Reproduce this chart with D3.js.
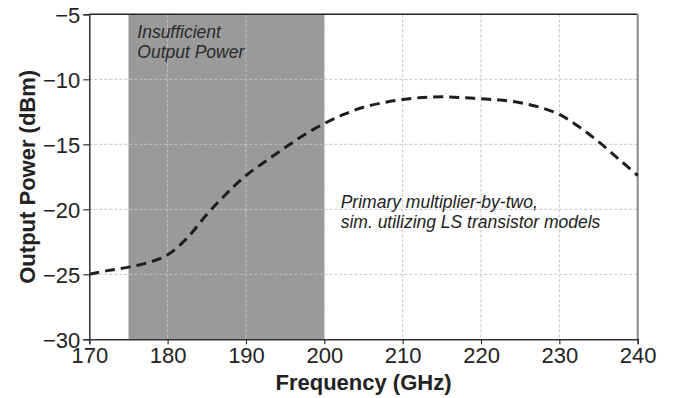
<!DOCTYPE html>
<html>
<head>
<meta charset="utf-8">
<script src="https://cdn.jsdelivr.net/npm/d3@7"></script>
<style>
  html, body { margin: 0; padding: 0; background: #fff; }
  svg { display: block; font-family: "Liberation Sans", Arial, Helvetica, sans-serif; }
</style>
</head>
<body>
<svg id="chart" width="673" height="398"></svg>
<script>
// ---- Data ----
const frequency = [170, 172.5, 175, 177.5, 180, 182.5, 185, 187.5, 190, 192.5, 195, 197.5, 200,
  202.5, 205, 207.5, 210, 212.5, 215, 217.5, 220, 222.5, 225, 227.5, 230, 232.5, 235, 237.5, 240];
const outputPower = [-25.0, -24.7, -24.45, -24.1, -23.5, -22.2, -20.4, -18.8, -17.4, -16.3, -15.25, -14.25, -13.4,
  -12.7, -12.15, -11.8, -11.55, -11.4, -11.35, -11.4, -11.5, -11.6, -11.8, -12.15, -12.7, -13.65, -14.8, -16.1, -17.4];
const shadedBand = [175, 200];
const xTicks = [170, 180, 190, 200, 210, 220, 230, 240];
const yTicks = [-30, -25, -20, -15, -10, -5];
const bandLabel = ["Insufficient", "Output Power"];
const noteLabel = ["Primary multiplier-by-two,", "sim. utilizing LS transistor models"];
const xTitle = "Frequency (GHz)";
const yTitle = "Output Power (dBm)";

// ---- Layout ----
const W = 673, H = 398;
const m = { left: 89.3, right: 35.3, top: 14.3, bottom: 58.7 };
const svg = d3.select("#chart");
const x = d3.scaleLinear().domain([170, 240]).range([m.left, W - m.right]);
const y = d3.scaleLinear().domain([-30, -5]).range([H - m.bottom, m.top]);

// shaded band
svg.append("rect")
  .attr("x", x(shadedBand[0])).attr("y", y(-5))
  .attr("width", x(shadedBand[1]) - x(shadedBand[0]))
  .attr("height", y(-30) - y(-5))
  .attr("fill", "#9a9a9b");

// grid
const grid = svg.append("g").attr("stroke", "#c4c4c4").attr("stroke-width", 1).attr("stroke-dasharray", "3,2");
grid.selectAll(".gx").data(xTicks.slice(1, -1)).join("line")
  .attr("x1", d => x(d)).attr("x2", d => x(d)).attr("y1", y(-5)).attr("y2", y(-30));
grid.selectAll(".gy").data(yTicks.slice(1, -1)).join("line")
  .attr("y1", d => y(d)).attr("y2", d => y(d)).attr("x1", x(170)).attr("x2", x(240));

// frame top / right
svg.append("line").attr("x1", x(170)).attr("x2", x(240)).attr("y1", y(-5)).attr("y2", y(-5))
  .attr("stroke", "#222").attr("stroke-width", 1.5);
svg.append("line").attr("x1", x(240)).attr("x2", x(240)).attr("y1", y(-5)).attr("y2", y(-30))
  .attr("stroke", "#8a8a8a").attr("stroke-width", 2);

// curve
const pts = frequency.map((f, i) => [f, outputPower[i]]);
svg.append("path")
  .datum(pts)
  .attr("fill", "none")
  .attr("stroke", "#1e1e1e")
  .attr("stroke-width", 3)
  .attr("stroke-dasharray", "10,6")
  .attr("d", d3.line().x(d => x(d[0])).y(d => y(d[1])).curve(d3.curveCatmullRom.alpha(0.5)));

// axes
const fmt = d => (d < 0 ? "\u2212" + Math.abs(d) : String(d));
const xAxis = svg.append("g").attr("transform", `translate(0,${y(-30)})`)
  .call(d3.axisBottom(x).tickValues(xTicks).tickSize(5).tickPadding(3).tickFormat(fmt));
const yAxis = svg.append("g").attr("transform", `translate(${x(170)},0)`)
  .call(d3.axisLeft(y).tickValues(yTicks).tickSize(6).tickPadding(3).tickFormat(fmt));
[xAxis, yAxis].forEach(a => {
  a.select(".domain").attr("stroke", "#333").attr("stroke-width", 1.5);
  a.selectAll(".tick line").attr("stroke", "#333").attr("stroke-width", 1.2);
  a.selectAll(".tick text").attr("fill", "#222").style("font-size", "22px")
    .style("font-family", "'Liberation Sans', Arial, sans-serif");
});
yAxis.selectAll(".tick text").attr("dy", "0.36em");
xAxis.selectAll(".tick text").attr("dy", "0.7em");

// axis titles
svg.append("text").attr("x", (x(170) + x(240)) / 2).attr("y", 390)
  .attr("text-anchor", "middle").attr("fill", "#222")
  .style("font-size", "22px").style("font-weight", "bold").text(xTitle);
svg.append("text").attr("transform", `translate(35,${(y(-5) + y(-30)) / 2}) rotate(-90)`)
  .attr("text-anchor", "middle").attr("fill", "#222")
  .style("font-size", "22px").style("font-weight", "bold").text(yTitle);

// annotations (multi-line)
function multiline(lines, x0, y0, color) {
  const g = svg.append("g");
  g.selectAll("text").data(lines).join("text")
    .attr("x", x0).attr("y", (d, i) => y0 + i * 19.7)
    .attr("fill", color).style("font-size", "17.5px").style("font-style", "italic").text(d => d);
}
multiline(bandLabel, 137.3, 38.0, "#2a2a2a");
multiline(noteLabel, 340.7, 208.0, "#222");
</script>
</body>
</html>
